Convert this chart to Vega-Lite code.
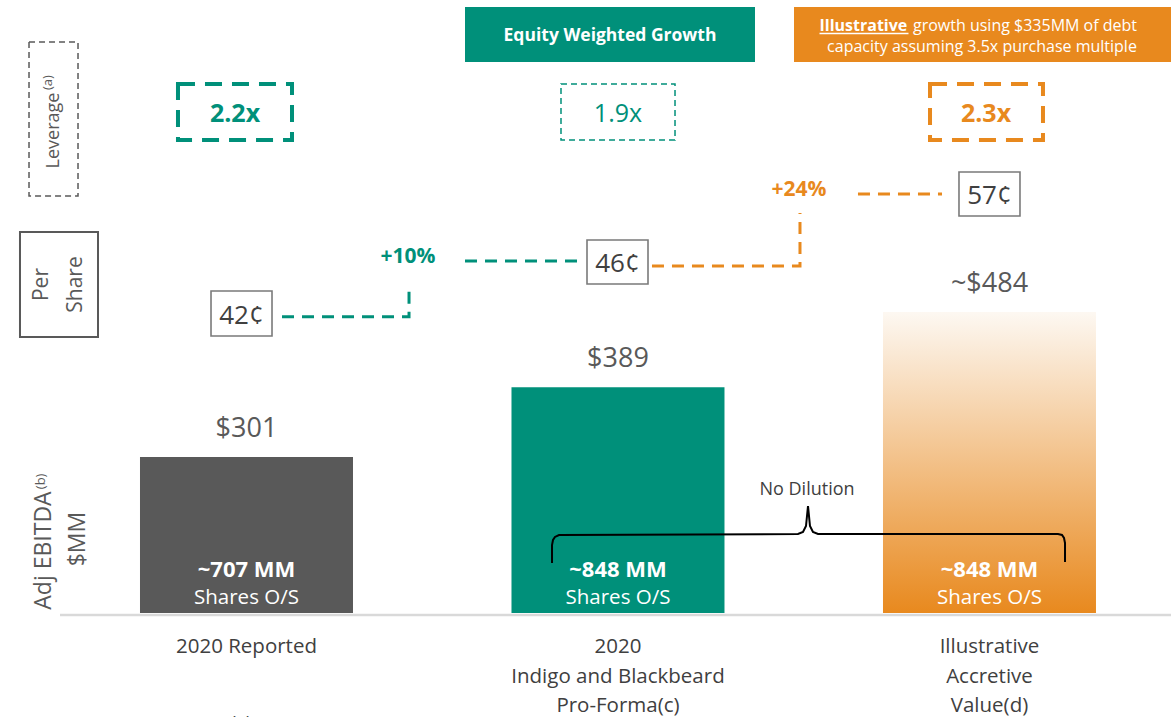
{
"$schema":"https://vega.github.io/schema/vega-lite/v6.json",
"width":1171,"height":717,"autosize":"none","padding":0,"background":"white",
"config":{"view":{"stroke":null},"font":"Open Sans","text":{"font":"Open Sans"},"scale":{"continuousPadding":0}},
"datasets":{
 "bars":[
  {"slot":1,"value":301,"label":"$301","shares":"~707 MM","scen":"reported","xl":"2020 Reported"},
  {"slot":2,"value":389,"label":"$389","shares":"~848 MM","scen":"equity","xl":"2020\nIndigo and Blackbeard\nPro-Forma(c)"},
  {"slot":3,"value":484,"label":"~$484","shares":"~848 MM","scen":"debt","xl":"Illustrative\nAccretive\nValue(d)"}
 ],
 "leverage":[
  {"v":"2.2x","scen":"equity","kind":"thick","x":0.9691,"y":723.8,"bx":0.8156,"bx2":1.1225,"by":771.8,"by2":701.1},
  {"v":"1.9x","scen":"equity","kind":"thin","x":2.0,"y":723.8,"bx":1.8466,"bx2":2.1535,"by":771.8,"by2":701.1},
  {"v":"2.3x","scen":"debt","kind":"thick","x":2.9906,"y":723.8,"bx":2.8399,"bx2":3.1440,"by":771.8,"by2":701.1}
 ],
 "pershare":[
  {"v":"42¢","x":0.9866,"y":468.9,"bx":0.9045,"bx2":1.0687,"by":510.5,"by2":453.7},
  {"v":"46¢","x":1.9987,"y":534.5,"bx":1.9166,"bx2":2.0808,"by":574.9,"by2":519.4},
  {"v":"57¢","x":3.0,"y":620.3,"bx":2.9179,"bx2":3.0821,"by":660.7,"by2":605.2}
 ],
 "steps":[
  {"seg":"a","ord":1,"scen":"equity","x":1.0956,"y":478.1},
  {"seg":"a","ord":2,"scen":"equity","x":1.4375,"y":478.1},
  {"seg":"a","ord":3,"scen":"equity","x":1.4375,"y":513.1},
  {"seg":"b","ord":1,"scen":"equity","x":1.5882,"y":548.4},
  {"seg":"b","ord":2,"scen":"equity","x":1.8977,"y":548.4},
  {"seg":"c","ord":1,"scen":"debt","x":2.0915,"y":542.1},
  {"seg":"c","ord":2,"scen":"debt","x":2.4899,"y":542.1},
  {"seg":"c","ord":3,"scen":"debt","x":2.4899,"y":609.0},
  {"seg":"d","ord":1,"scen":"debt","x":2.6460,"y":633.0},
  {"seg":"d","ord":2,"scen":"debt","x":2.8722,"y":633.0}
 ],
 "brace":[
  {"ord":1,"x":1.8224,"y":167.2},{"ord":2,"x":1.8224,"y":190.0},{"ord":3,"x":1.8251,"y":196.3},
  {"ord":4,"x":1.8304,"y":200.1},{"ord":5,"x":1.8412,"y":202.6},{"ord":6,"x":2.4845,"y":203.8},
  {"ord":7,"x":2.4980,"y":206.4},{"ord":8,"x":2.5061,"y":213.9},{"ord":9,"x":2.5115,"y":239.2},
  {"ord":10,"x":2.5168,"y":213.9},{"ord":11,"x":2.5249,"y":206.4},{"ord":12,"x":2.5384,"y":203.8},
  {"ord":13,"x":3.1844,"y":203.8},{"ord":14,"x":3.1952,"y":202.6},{"ord":15,"x":3.2006,"y":198.8},
  {"ord":16,"x":3.2033,"y":192.5},{"ord":17,"x":3.2033,"y":168.5}
 ]
},
"layer":[
 {"data":{"values":[{"x":0.498,"x2":3.4886,"y":101.6}]},
  "mark":{"type":"rule","color":"#d9d9d9","strokeWidth":2.5},
  "encoding":{"x":{"field":"x","type":"quantitative","scale":{"domain":[0.3365,3.4886],"nice":false,"zero":false},"axis":null},"x2":{"field":"x2"},
   "y":{"field":"y","type":"quantitative","scale":{"domain":[-27.1,877.8],"nice":false,"zero":false},"axis":null}}},
 {"data":{"values":[{"scen":"equity","x":1.5882,"x2":2.3688,"y":868.97,"y2":799.55},{"scen":"debt","x":2.4738,"x2":3.4886,"y":868.97,"y2":799.55}]},
  "mark":{"type":"rect"},
  "encoding":{"x":{"field":"x","type":"quantitative","scale":{"domain":[0.3365,3.4886],"nice":false,"zero":false},"axis":null},"x2":{"field":"x2"},
   "y":{"field":"y","type":"quantitative","scale":{"domain":[-27.1,877.8],"nice":false,"zero":false},"axis":null},"y2":{"field":"y2"},
   "color":{"field":"scen","type":"nominal","scale":{"domain":["reported","equity","debt","ink"],"range":["#595959","#00907a","#e8891e","#404040"]},"legend":null}}},
 {"data":{"values":[{"t":"Equity Weighted Growth","x":1.9785,"y":826.1}]},
  "mark":{"type":"text","fontWeight":"bold","fontSize":17.5,"color":"white","align":"center","baseline":"alphabetic"},
  "encoding":{"x":{"field":"x","type":"quantitative","scale":{"domain":[0.3365,3.4886],"nice":false,"zero":false},"axis":null},
   "y":{"field":"y","type":"quantitative","scale":{"domain":[-27.1,877.8],"nice":false,"zero":false},"axis":null},"text":{"field":"t"}}},
 {"data":{"values":[{"t":"Illustrative","x":2.5424,"y":838.7}]},
  "mark":{"type":"text","fontWeight":"bold","fontSize":16,"color":"white","align":"left","baseline":"alphabetic"},
  "encoding":{"x":{"field":"x","type":"quantitative","scale":{"domain":[0.3365,3.4886],"nice":false,"zero":false},"axis":null},
   "y":{"field":"y","type":"quantitative","scale":{"domain":[-27.1,877.8],"nice":false,"zero":false},"axis":null},"text":{"field":"t"}}},
 {"data":{"values":[{"t":"growth using $335MM of debt","x":2.7941,"y":838.7}]},
  "mark":{"type":"text","fontSize":16,"color":"white","align":"left","baseline":"alphabetic"},
  "encoding":{"x":{"field":"x","type":"quantitative","scale":{"domain":[0.3365,3.4886],"nice":false,"zero":false},"axis":null},
   "y":{"field":"y","type":"quantitative","scale":{"domain":[-27.1,877.8],"nice":false,"zero":false},"axis":null},"text":{"field":"t"}}},
 {"data":{"values":[{"t":"capacity assuming 3.5x purchase multiple","x":2.9798,"y":812.8}]},
  "mark":{"type":"text","fontSize":16,"color":"white","align":"center","baseline":"alphabetic"},
  "encoding":{"x":{"field":"x","type":"quantitative","scale":{"domain":[0.3365,3.4886],"nice":false,"zero":false},"axis":null},
   "y":{"field":"y","type":"quantitative","scale":{"domain":[-27.1,877.8],"nice":false,"zero":false},"axis":null},"text":{"field":"t"}}},
 {"data":{"values":[{"x":2.5424,"x2":2.782,"y":835.5}]},
  "mark":{"type":"rule","color":"white","strokeWidth":1.5},
  "encoding":{"x":{"field":"x","type":"quantitative","scale":{"domain":[0.3365,3.4886],"nice":false,"zero":false},"axis":null},"x2":{"field":"x2"},
   "y":{"field":"y","type":"quantitative","scale":{"domain":[-27.1,877.8],"nice":false,"zero":false},"axis":null}}},
 {"data":{"values":[{"x":0.4146,"x2":0.5465,"y":824.8,"y2":630.4}]},
  "mark":{"type":"rect","filled":false,"stroke":"#595959","strokeWidth":1.5,"strokeDash":[6,4]},
  "encoding":{"x":{"field":"x","type":"quantitative","scale":{"domain":[0.3365,3.4886],"nice":false,"zero":false},"axis":null},"x2":{"field":"x2"},
   "y":{"field":"y","type":"quantitative","scale":{"domain":[-27.1,877.8],"nice":false,"zero":false},"axis":null},"y2":{"field":"y2"}}},
 {"data":{"values":[{"x":0.3903,"x2":0.6003,"y":585.0,"y2":452.5}]},
  "mark":{"type":"rect","filled":false,"stroke":"#595959","strokeWidth":2},
  "encoding":{"x":{"field":"x","type":"quantitative","scale":{"domain":[0.3365,3.4886],"nice":false,"zero":false},"axis":null},"x2":{"field":"x2"},
   "y":{"field":"y","type":"quantitative","scale":{"domain":[-27.1,877.8],"nice":false,"zero":false},"axis":null},"y2":{"field":"y2"}}},
 {"data":{"values":[{"t":"Leverage","x":0.4953,"y":713.1}]},
  "mark":{"type":"text","fontSize":18,"color":"#595959","angle":270,"align":"center","baseline":"alphabetic"},
  "encoding":{"x":{"field":"x","type":"quantitative","scale":{"domain":[0.3365,3.4886],"nice":false,"zero":false},"axis":null},
   "y":{"field":"y","type":"quantitative","scale":{"domain":[-27.1,877.8],"nice":false,"zero":false},"axis":null},"text":{"field":"t"}}},
 {"data":{"values":[{"t":"(a)","x":0.4765,"y":773.5},{"t":"(b)","x":0.4576,"y":270.3}]},
  "mark":{"type":"text","fontSize":13,"color":"#595959","angle":270,"align":"center","baseline":"alphabetic"},
  "encoding":{"x":{"field":"x","type":"quantitative","scale":{"domain":[0.3365,3.4886],"nice":false,"zero":false},"axis":null},
   "y":{"field":"y","type":"quantitative","scale":{"domain":[-27.1,877.8],"nice":false,"zero":false},"axis":null},"text":{"field":"t"}}},
 {"data":{"values":[{"t":"Per\nShare","x":0.4665,"y":518.7}]},
  "mark":{"type":"text","fontSize":21,"color":"#595959","angle":270,"align":"center","baseline":"alphabetic","lineBreak":"\n","lineHeight":33.4},
  "encoding":{"x":{"field":"x","type":"quantitative","scale":{"domain":[0.3365,3.4886],"nice":false,"zero":false},"axis":null},
   "y":{"field":"y","type":"quantitative","scale":{"domain":[-27.1,877.8],"nice":false,"zero":false},"axis":null},"text":{"field":"t"}}},
 {"data":{"values":[{"t":"Adj EBITDA","x":0.4751,"y":183.0},{"t":"$MM","x":0.5653,"y":197.5}]},
  "mark":{"type":"text","fontSize":23,"color":"#595959","angle":270,"align":"center","baseline":"alphabetic"},
  "encoding":{"x":{"field":"x","type":"quantitative","scale":{"domain":[0.3365,3.4886],"nice":false,"zero":false},"axis":null},
   "y":{"field":"y","type":"quantitative","scale":{"domain":[-27.1,877.8],"nice":false,"zero":false},"axis":null},"text":{"field":"t"}}},
 {"data":{"name":"leverage"},"transform":[{"filter":"datum.kind == 'thick'"}],
  "mark":{"type":"rect","filled":false,"strokeWidth":4,"strokeDash":[17,10]},
  "encoding":{"x":{"field":"bx","type":"quantitative","scale":{"domain":[0.3365,3.4886],"nice":false,"zero":false},"axis":null},"x2":{"field":"bx2"},
   "y":{"field":"by","type":"quantitative","scale":{"domain":[-27.1,877.8],"nice":false,"zero":false},"axis":null},"y2":{"field":"by2"},
   "color":{"field":"scen","type":"nominal","scale":{"domain":["reported","equity","debt","ink"],"range":["#595959","#00907a","#e8891e","#404040"]},"legend":null}}},
 {"data":{"name":"leverage"},"transform":[{"filter":"datum.kind == 'thin'"}],
  "mark":{"type":"rect","filled":false,"strokeWidth":1.5,"strokeDash":[6,4]},
  "encoding":{"x":{"field":"bx","type":"quantitative","scale":{"domain":[0.3365,3.4886],"nice":false,"zero":false},"axis":null},"x2":{"field":"bx2"},
   "y":{"field":"by","type":"quantitative","scale":{"domain":[-27.1,877.8],"nice":false,"zero":false},"axis":null},"y2":{"field":"by2"},
   "color":{"field":"scen","type":"nominal","scale":{"domain":["reported","equity","debt","ink"],"range":["#595959","#00907a","#e8891e","#404040"]},"legend":null}}},
 {"data":{"name":"leverage"},"transform":[{"filter":"datum.kind == 'thick'"}],
  "mark":{"type":"text","fontSize":25,"fontWeight":"bold","align":"center","baseline":"alphabetic"},
  "encoding":{"x":{"field":"x","type":"quantitative","scale":{"domain":[0.3365,3.4886],"nice":false,"zero":false},"axis":null},
   "y":{"field":"y","type":"quantitative","scale":{"domain":[-27.1,877.8],"nice":false,"zero":false},"axis":null},"text":{"field":"v"},
   "color":{"field":"scen","type":"nominal","scale":{"domain":["reported","equity","debt","ink"],"range":["#595959","#00907a","#e8891e","#404040"]},"legend":null}}},
 {"data":{"name":"leverage"},"transform":[{"filter":"datum.kind == 'thin'"}],
  "mark":{"type":"text","fontSize":25,"align":"center","baseline":"alphabetic"},
  "encoding":{"x":{"field":"x","type":"quantitative","scale":{"domain":[0.3365,3.4886],"nice":false,"zero":false},"axis":null},
   "y":{"field":"y","type":"quantitative","scale":{"domain":[-27.1,877.8],"nice":false,"zero":false},"axis":null},"text":{"field":"v"},
   "color":{"field":"scen","type":"nominal","scale":{"domain":["reported","equity","debt","ink"],"range":["#595959","#00907a","#e8891e","#404040"]},"legend":null}}},
 {"data":{"name":"steps"},
  "mark":{"type":"line","strokeWidth":3,"strokeDash":[12,8]},
  "encoding":{"x":{"field":"x","type":"quantitative","scale":{"domain":[0.3365,3.4886],"nice":false,"zero":false},"axis":null},
   "y":{"field":"y","type":"quantitative","scale":{"domain":[-27.1,877.8],"nice":false,"zero":false},"axis":null},
   "detail":{"field":"seg"},"order":{"field":"ord","type":"quantitative"},
   "color":{"field":"scen","type":"nominal","scale":{"domain":["reported","equity","debt","ink"],"range":["#595959","#00907a","#e8891e","#404040"]},"legend":null}}},
 {"data":{"values":[{"t":"+10%","scen":"equity","x":1.4348,"y":545.9},{"t":"+24%","scen":"debt","x":2.4872,"y":630.4}]},
  "mark":{"type":"text","fontSize":21,"fontWeight":"bold","align":"center","baseline":"alphabetic"},
  "encoding":{"x":{"field":"x","type":"quantitative","scale":{"domain":[0.3365,3.4886],"nice":false,"zero":false},"axis":null},
   "y":{"field":"y","type":"quantitative","scale":{"domain":[-27.1,877.8],"nice":false,"zero":false},"axis":null},"text":{"field":"t"},
   "color":{"field":"scen","type":"nominal","scale":{"domain":["reported","equity","debt","ink"],"range":["#595959","#00907a","#e8891e","#404040"]},"legend":null}}},
 {"data":{"name":"pershare"},
  "mark":{"type":"rect","filled":false,"stroke":"#7a7a7a","strokeWidth":1.6},
  "encoding":{"x":{"field":"bx","type":"quantitative","scale":{"domain":[0.3365,3.4886],"nice":false,"zero":false},"axis":null},"x2":{"field":"bx2"},
   "y":{"field":"by","type":"quantitative","scale":{"domain":[-27.1,877.8],"nice":false,"zero":false},"axis":null},"y2":{"field":"by2"}}},
 {"data":{"name":"pershare"},
  "mark":{"type":"text","fontSize":26,"color":"#404040","align":"center","baseline":"alphabetic"},
  "encoding":{"x":{"field":"x","type":"quantitative","scale":{"domain":[0.3365,3.4886],"nice":false,"zero":false},"axis":null},
   "y":{"field":"y","type":"quantitative","scale":{"domain":[-27.1,877.8],"nice":false,"zero":false},"axis":null},"text":{"field":"v"}}},
 {"data":{"name":"bars"},"transform":[{"filter":"datum.slot < 3"}],
  "mark":{"type":"bar","width":213},
  "encoding":{"x":{"field":"slot","type":"quantitative","scale":{"domain":[0.3365,3.4886],"nice":false,"zero":false},"axis":null},
   "y":{"field":"value","type":"quantitative","scale":{"domain":[-27.1,877.8],"nice":false,"zero":false},"axis":null},"y2":{"datum":104.1},
   "color":{"field":"scen","type":"nominal","scale":{"domain":["reported","equity","debt","ink"],"range":["#595959","#00907a","#e8891e","#404040"]},"legend":null}}},
 {"data":{"name":"bars"},"transform":[{"filter":"datum.slot == 3"}],
  "mark":{"type":"bar","width":213,"color":{"gradient":"linear","x1":0,"y1":0,"x2":0,"y2":1,"stops":[{"offset":0,"color":"#fdf8f2"},{"offset":1,"color":"#e8891e"}]}},
  "encoding":{"x":{"field":"slot","type":"quantitative","scale":{"domain":[0.3365,3.4886],"nice":false,"zero":false},"axis":null},
   "y":{"field":"value","type":"quantitative","scale":{"domain":[-27.1,877.8],"nice":false,"zero":false},"axis":null},"y2":{"datum":104.1}}},
 {"data":{"name":"bars"},
  "mark":{"type":"text","fontSize":27,"color":"#595959","dy":-20,"align":"center","baseline":"alphabetic"},
  "encoding":{"x":{"field":"slot","type":"quantitative","scale":{"domain":[0.3365,3.4886],"nice":false,"zero":false},"axis":null},
   "y":{"field":"value","type":"quantitative","scale":{"domain":[-27.1,877.8],"nice":false,"zero":false},"axis":null},"text":{"field":"label"}}},
 {"data":{"name":"bars"},
  "mark":{"type":"text","fontSize":22,"fontWeight":"bold","color":"white","dy":-36,"align":"center","baseline":"alphabetic"},
  "encoding":{"x":{"field":"slot","type":"quantitative","scale":{"domain":[0.3365,3.4886],"nice":false,"zero":false},"axis":null},
   "y":{"datum":104.1,"type":"quantitative","scale":{"domain":[-27.1,877.8],"nice":false,"zero":false},"axis":null},"text":{"field":"shares"}}},
 {"data":{"name":"bars"},
  "mark":{"type":"text","fontSize":20.5,"color":"white","dy":-9,"align":"center","baseline":"alphabetic","text":"Shares O/S"},
  "encoding":{"x":{"field":"slot","type":"quantitative","scale":{"domain":[0.3365,3.4886],"nice":false,"zero":false},"axis":null},
   "y":{"datum":104.1,"type":"quantitative","scale":{"domain":[-27.1,877.8],"nice":false,"zero":false},"axis":null}}},
 {"data":{"name":"bars"},
  "mark":{"type":"text","fontSize":20.5,"color":"#404040","dy":40,"align":"center","baseline":"alphabetic","lineBreak":"\n","lineHeight":29.5},
  "encoding":{"x":{"field":"slot","type":"quantitative","scale":{"domain":[0.3365,3.4886],"nice":false,"zero":false},"axis":null},
   "y":{"datum":104.1,"type":"quantitative","scale":{"domain":[-27.1,877.8],"nice":false,"zero":false},"axis":null},"text":{"field":"xl"}}},
 {"data":{"name":"brace"},
  "mark":{"type":"line","color":"black","strokeWidth":2},
  "encoding":{"x":{"field":"x","type":"quantitative","scale":{"domain":[0.3365,3.4886],"nice":false,"zero":false},"axis":null},
   "y":{"field":"y","type":"quantitative","scale":{"domain":[-27.1,877.8],"nice":false,"zero":false},"axis":null},
   "order":{"field":"ord","type":"quantitative"}}},
 {"data":{"values":[{"t":"No Dilution","x":2.5088,"y":253.1},{"t":"(a)","x":0.9852,"y":-42.3}]},
  "mark":{"type":"text","fontSize":18,"color":"#404040","align":"center","baseline":"alphabetic"},
  "encoding":{"x":{"field":"x","type":"quantitative","scale":{"domain":[0.3365,3.4886],"nice":false,"zero":false},"axis":null},
   "y":{"field":"y","type":"quantitative","scale":{"domain":[-27.1,877.8],"nice":false,"zero":false},"axis":null},"text":{"field":"t"}}}
]
}
